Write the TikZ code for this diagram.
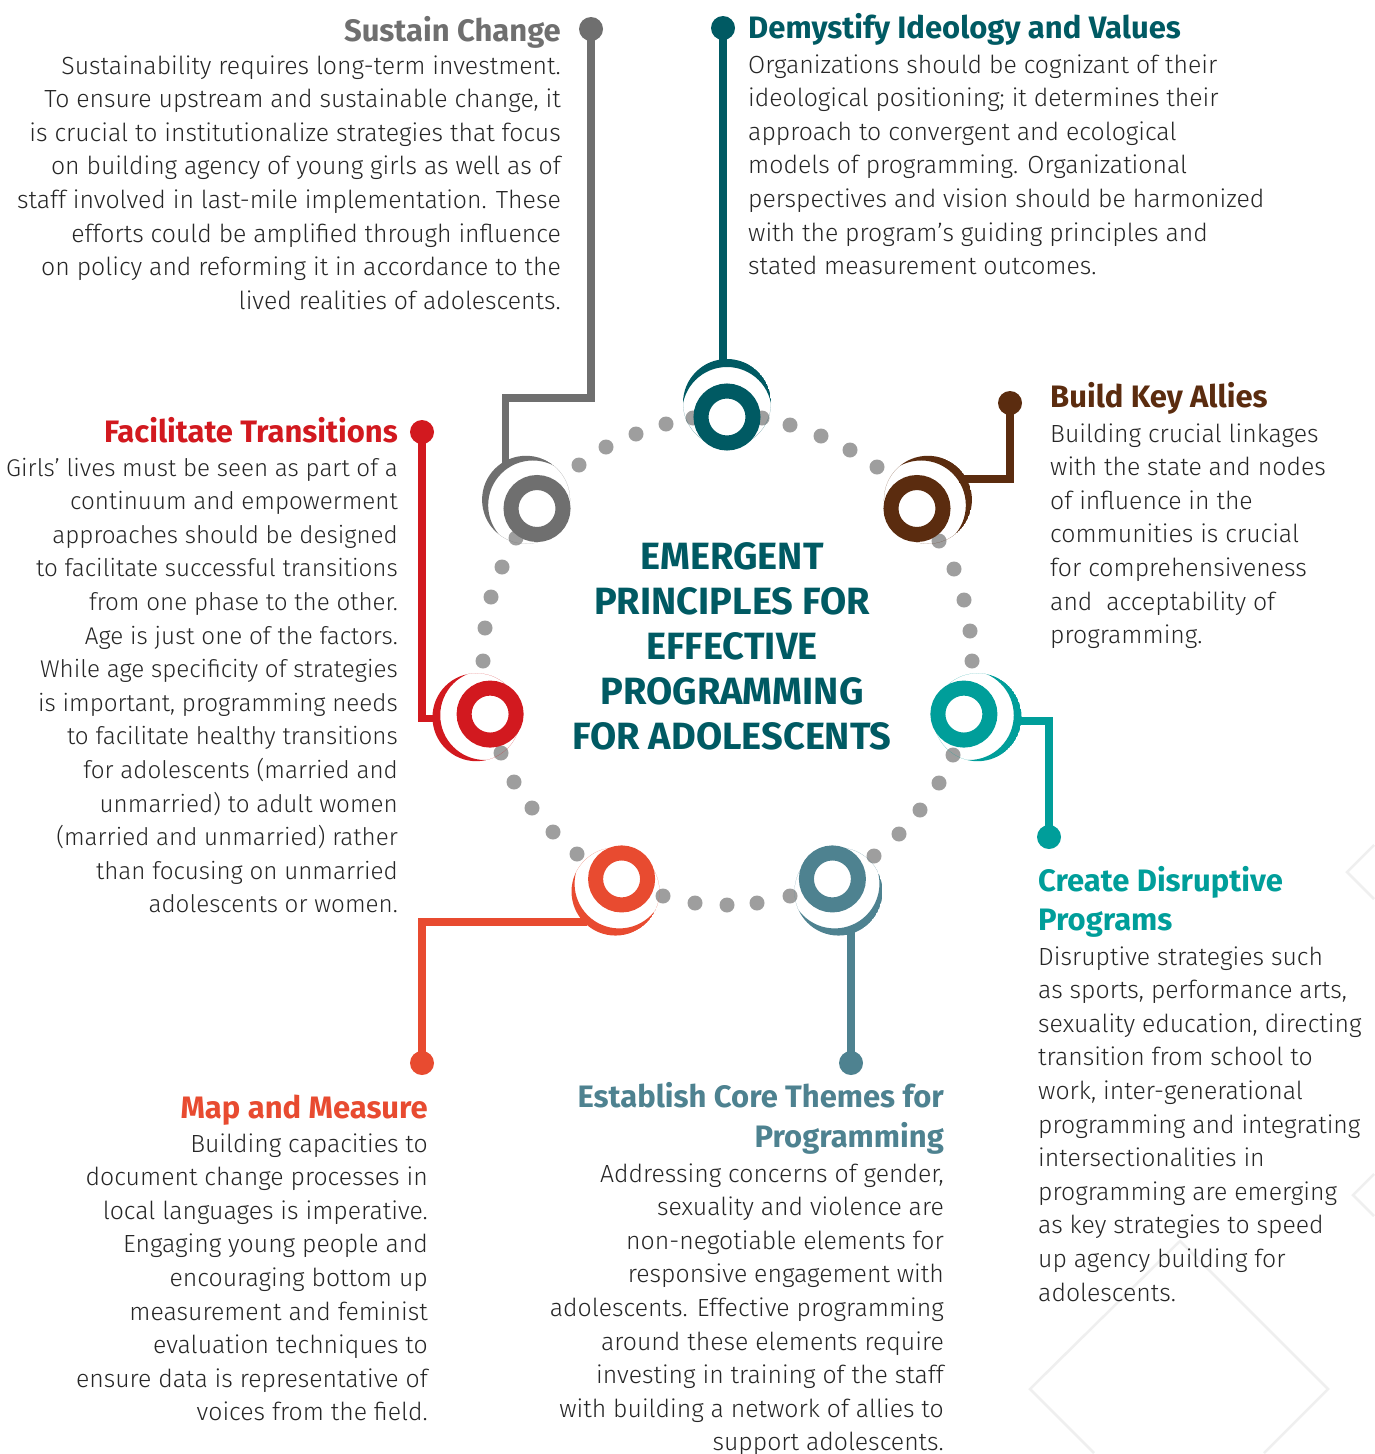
\documentclass[tikz,border=0pt]{standalone}
\usepackage{fontspec}
\usetikzlibrary{calc}
\newfontfamily\bodyfont{Fira Sans Light}
\newfontfamily\titlefont{Fira Sans Bold}
\definecolor{tealdark}{HTML}{005A63}
\definecolor{grayc}{HTML}{6F6F6F}
\definecolor{brownc}{HTML}{5B2C0F}
\definecolor{redc}{HTML}{D2191F}
\definecolor{tealc}{HTML}{009E9A}
\definecolor{slatec}{HTML}{4E8290}
\definecolor{orangec}{HTML}{E84B30}
\definecolor{dotc}{HTML}{9E9E9E}
\definecolor{bodyc}{HTML}{262626}
\definecolor{bgline}{HTML}{EFEFEF}
\tikzset{
  body/.style={font={\bodyfont\fontsize{24.8}{30}\selectfont}, text=bodyc, inner sep=0pt},
  bodysmall/.style={font={\bodyfont\fontsize{24.2}{30}\selectfont}},
  ttl/.style={font={\titlefont\fontsize{31}{34}\selectfont}, inner sep=0pt},
  bigttl/.style={font={\titlefont\fontsize{38}{44}\selectfont}, text=tealdark, inner sep=0pt, anchor=base},
  ringst/.style={line width=15pt},
  conn/.style={line width=7.5pt},
  enddot/.style={circle, minimum size=24pt, inner sep=0pt},
  graydot/.style={circle, minimum size=15pt, inner sep=0pt, fill=dotc},
  bgdiam/.style={draw=bgline, line width=2.5pt}
}
\newcommand\lineblock[5]{%
  \foreach \tline [count=\i] in {#5} {
    \node[body, #2] (#1\i) at ({#3},{#4+33.6*(\i-1)}) {\tline};
  }%
}
\newcommand\crescent[3]{%
  \begin{scope}
    \clip ($(#1)+(#2:14pt)$) circle[radius=44pt];
    \fill[#3, even odd rule] ($(#1)+(#2:14pt)$) circle[radius=44pt]
      ($(#1)+(#2:5.25pt)$) circle[radius=44.75pt];
  \end{scope}}
\begin{document}
\begin{tikzpicture}[x=1pt, y=-1pt]
\useasboundingbox (0,0) rectangle (1374,1454);
\fill[white] (0,0) rectangle (1374,1454);

% faint background diamonds
\draw[bgdiam] (1374,845) -- (1347,872) -- (1374,899);
\draw[bgdiam] (1374,1174) -- (1353,1195) -- (1374,1216);
\draw[bgdiam] (1094,1453) -- (1030,1389) -- (1180,1241) -- (1328,1389) -- (1264,1453);

% centre of the circle of principles
\coordinate (O) at (727,660);
\coordinate (rT) at ($(O)+(90:243pt)$);
\coordinate (rB) at ($(O)+(38.57:243pt)$);
\coordinate (rC) at ($(O)+(-12.86:243pt)$);
\coordinate (rE) at ($(O)+(-64.29:243pt)$);
\coordinate (rM) at ($(O)+(-115.71:243pt)$);
\coordinate (rF) at ($(O)+(-167.14:243pt)$);
\coordinate (rS) at ($(O)+(-218.57:243pt)$);

% grey dots
\foreach \x/\y [count=\i] in {693/418,666/424,636/434,606/447,579/465,
  762/418,790/425,821/436,850/450,877/467,
  939/541,954/569,964/600,970/631,972/661,
  953/755,939/783,920/810,899/834,874/856,
  663/896,695/903,727/905,757/903,790/896,
  501/753,514/782,532/808,553/832,577/854,
  516/538,502/567,491/597,485/628,483/661}
  \node[graydot] (dot\i) at (\x,\y) {};

% rings and crescents
\draw[ringst, tealdark] (rT) circle[radius=26pt];
\crescent{rT}{90}{tealdark}
\draw[ringst, brownc] (rB) circle[radius=26pt];
\crescent{rB}{38.57}{brownc}
\draw[ringst, tealc] (rC) circle[radius=26pt];
\crescent{rC}{-12.86}{tealc}
\draw[ringst, slatec] (rE) circle[radius=26pt];
\crescent{rE}{-64.29}{slatec}
\draw[ringst, orangec] (rM) circle[radius=26pt];
\crescent{rM}{-115.71}{orangec}
\draw[ringst, redc] (rF) circle[radius=26pt];
\crescent{rF}{-167.14}{redc}
\draw[ringst, grayc] (rS) circle[radius=26pt];
\crescent{rS}{-218.57}{grayc}

% connector ends
\node[enddot, fill=grayc] (eS) at (591,29) {};
\node[enddot, fill=tealdark] (eT) at (723,28) {};
\node[enddot, fill=brownc] (eB) at (1010,403) {};
\node[enddot, fill=redc] (eF) at (422,432) {};
\node[enddot, fill=tealc] (eC) at (1049,837) {};
\node[enddot, fill=orangec] (eM) at (422,1063) {};
\node[enddot, fill=slatec] (eE) at (851,1063) {};

\coordinate (aS) at (505.5,466);
\coordinate (aT) at (723,363);
\coordinate (aB) at (959,479);
\coordinate (aF) at (436,718.5);
\coordinate (aC) at (1016,721);
\coordinate (aM) at (587,922);
\coordinate (aE) at (851,930);

\draw[conn, grayc] (eS.center) -- (591,398) -- (505.5,398) -- (aS);
\draw[conn, tealdark] (eT.center) -- (aT);
\draw[conn, brownc] (eB.center) -- (1010,479) -- (aB);
\draw[conn, redc] (eF.center) -- (422,718.5) -- (aF);
\draw[conn, tealc] (aC) -- (1049,721) -- (eC.center);
\draw[conn, orangec] (aM) -- (422,922) -- (eM.center);
\draw[conn, slatec] (aE) -- (eE.center);

% central title
\node[bigttl] (c1) at (732,569.5) {EMERGENT};
\node[bigttl] (c2) at (732,614.5) {PRINCIPLES FOR};
\node[bigttl] (c3) at (732,659.5) {EFFECTIVE};
\node[bigttl] (c4) at (732,704.5) {PROGRAMMING};
\node[bigttl] (c5) at (732,749.5) {FOR ADOLESCENTS};

% titles
\node[ttl, text=grayc, anchor=base east] (tS) at (561,41) {Sustain Change};
\node[ttl, text=tealdark, anchor=base west] (tT) at (748,38) {Demystify Ideology and Values};
\node[ttl, text=brownc, anchor=base west] (tB) at (1050,407) {Build Key Allies};
\node[ttl, text=redc, anchor=base east] (tF) at (398,442) {Facilitate Transitions};
\node[ttl, text=tealc, anchor=base west] (tC1) at (1038,891) {Create Disruptive};
\node[ttl, text=tealc, anchor=base west] (tC2) at (1038,930) {Programs};
\node[ttl, text=orangec, anchor=base east] (tM) at (428,1118) {Map and Measure};
\node[ttl, text=slatec, anchor=base east] (tE1) at (944,1107) {Establish Core Themes for};
\node[ttl, text=slatec, anchor=base east] (tE2) at (944,1147) {Programming};

% body texts
\lineblock{bS}{anchor=base east}{561}{74}{Sustainability requires long-term investment.,
  {To ensure upstream and sustainable change, it},
  is crucial to institutionalize strategies that focus,
  on building agency of young girls as well as of,
  staff involved in last-mile implementation. These,
  efforts could be amplified through influence,
  on policy and reforming it in accordance to the,
  lived realities of adolescents.}
\lineblock{bT}{anchor=base west}{748}{73}{Organizations should be cognizant of their,
  {ideological positioning; it determines their},
  approach to convergent and ecological,
  models of programming. Organizational,
  perspectives and vision should be harmonized,
  with the program’s guiding principles and,
  stated measurement outcomes.}
\lineblock{bB}{anchor=base west}{1050}{442}{Building crucial linkages,
  with the state and nodes,
  of influence in the,
  communities is crucial,
  for comprehensiveness,
  and\ \ acceptability of,
  programming.}
\lineblock{bF}{anchor=base east, bodysmall}{398}{476}{Girls’ lives must be seen as part of a,
  continuum and empowerment,
  approaches should be designed,
  to facilitate successful transitions,
  from one phase to the other.,
  Age is just one of the factors.,
  While age specificity of strategies,
  {is important, programming needs},
  to facilitate healthy transitions,
  for adolescents (married and,
  unmarried) to adult women,
  (married and unmarried) rather,
  than focusing on unmarried,
  adolescents or women.}
\lineblock{bC}{anchor=base west}{1038}{965}{Disruptive strategies such,
  {as sports, performance arts,},
  {sexuality education, directing},
  transition from school to,
  {work, inter-generational},
  programming and integrating,
  intersectionalities in,
  programming are emerging,
  as key strategies to speed,
  up agency building for,
  adolescents.}
\lineblock{bM}{anchor=base east}{428}{1152}{Building capacities to,
  document change processes in,
  local languages is imperative.,
  Engaging young people and,
  encouraging bottom up,
  measurement and feminist,
  evaluation techniques to,
  ensure data is representative of,
  voices from the field.}
\lineblock{bE}{anchor=base east}{944}{1182}{{Addressing concerns of gender,},
  sexuality and violence are,
  non-negotiable elements for,
  responsive engagement with,
  adolescents. Effective programming,
  around these elements require,
  investing in training of the staff,
  with building a network of allies to,
  support adolescents.}
\end{tikzpicture}
\end{document}
